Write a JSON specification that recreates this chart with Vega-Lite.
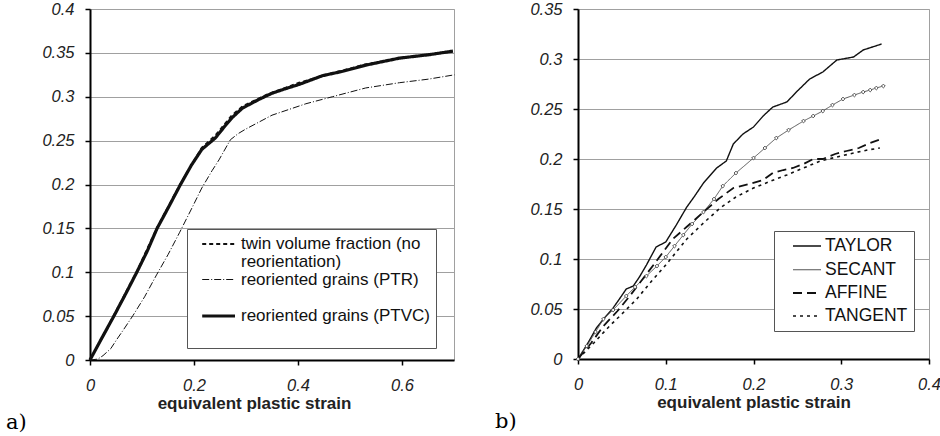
{
  "$schema": "https://vega.github.io/schema/vega-lite/v6.json",
  "background": "white",
  "padding": {"left": 5, "top": 0, "right": 0, "bottom": 0},
  "spacing": 34,
  "resolve": {
    "scale": {"color": "independent", "strokeDash": "independent", "strokeWidth": "independent"},
    "legend": {"color": "independent", "strokeDash": "independent", "strokeWidth": "independent"}
  },
  "config": {
    "font": "Liberation Sans",
    "view": {"stroke": "#a0a0a0", "strokeWidth": 1},
    "axis": {
      "labelFont": "Liberation Sans", "labelFontStyle": "italic", "labelFontSize": 16.5, "labelColor": "#222",
      "titleFont": "Liberation Sans", "titleFontWeight": "bold", "titleFontSize": 17, "titleColor": "#222",
      "domainColor": "black", "domainWidth": 2, "tickColor": "black", "tickWidth": 1.5, "tickSize": 5,
      "gridColor": "#a0a0a0", "gridWidth": 1, "labelPadding": 8, "titlePadding": 2, "format": "~g", "labelFlush": false
    },
    "legend": {
      "labelFont": "Liberation Sans", "labelFontSize": 17.5, "labelColor": "#111", "labelLimit": 400,
      "strokeColor": "#555", "fillColor": "white", "titlePadding": 0
    },
    "title": {"font": "DejaVu Serif", "fontSize": 21, "fontWeight": "normal", "color": "black"}
  },
  "hconcat": [
    {
      "width": 364, "height": 351,
      "title": {"text": "a)", "orient": "bottom", "anchor": "start", "frame": "group", "dx": -84, "offset": 0},
      "data": {"values": [
        {"series": "PTVC", "strain": 0, "value": 0},
        {"series": "PTVC", "strain": 0.02, "value": 0.022},
        {"series": "PTVC", "strain": 0.045, "value": 0.049},
        {"series": "PTVC", "strain": 0.07, "value": 0.077},
        {"series": "PTVC", "strain": 0.09, "value": 0.1},
        {"series": "PTVC", "strain": 0.11, "value": 0.124},
        {"series": "PTVC", "strain": 0.129, "value": 0.15},
        {"series": "PTVC", "strain": 0.15, "value": 0.173},
        {"series": "PTVC", "strain": 0.174, "value": 0.2},
        {"series": "PTVC", "strain": 0.195, "value": 0.222},
        {"series": "PTVC", "strain": 0.215, "value": 0.24},
        {"series": "PTVC", "strain": 0.241, "value": 0.253},
        {"series": "PTVC", "strain": 0.26, "value": 0.267},
        {"series": "PTVC", "strain": 0.273, "value": 0.276},
        {"series": "PTVC", "strain": 0.293, "value": 0.287},
        {"series": "PTVC", "strain": 0.325, "value": 0.297},
        {"series": "PTVC", "strain": 0.35, "value": 0.304},
        {"series": "PTVC", "strain": 0.375, "value": 0.309},
        {"series": "PTVC", "strain": 0.402, "value": 0.314},
        {"series": "PTVC", "strain": 0.447, "value": 0.324},
        {"series": "PTVC", "strain": 0.486, "value": 0.329},
        {"series": "PTVC", "strain": 0.53, "value": 0.336},
        {"series": "PTVC", "strain": 0.595, "value": 0.344},
        {"series": "PTVC", "strain": 0.653, "value": 0.348},
        {"series": "PTVC", "strain": 0.698, "value": 0.352},
        {"series": "twin", "strain": 0, "value": 0},
        {"series": "twin", "strain": 0.045, "value": 0.05},
        {"series": "twin", "strain": 0.09, "value": 0.101},
        {"series": "twin", "strain": 0.129, "value": 0.151},
        {"series": "twin", "strain": 0.174, "value": 0.201},
        {"series": "twin", "strain": 0.215, "value": 0.242},
        {"series": "twin", "strain": 0.241, "value": 0.256},
        {"series": "twin", "strain": 0.273, "value": 0.279},
        {"series": "twin", "strain": 0.293, "value": 0.289},
        {"series": "twin", "strain": 0.338, "value": 0.302},
        {"series": "twin", "strain": 0.402, "value": 0.316},
        {"series": "twin", "strain": 0.466, "value": 0.327},
        {"series": "twin", "strain": 0.53, "value": 0.337},
        {"series": "twin", "strain": 0.595, "value": 0.344},
        {"series": "twin", "strain": 0.653, "value": 0.348},
        {"series": "twin", "strain": 0.698, "value": 0.352},
        {"series": "PTR", "strain": 0, "value": 0},
        {"series": "PTR", "strain": 0.015, "value": 0.001},
        {"series": "PTR", "strain": 0.025, "value": 0.005},
        {"series": "PTR", "strain": 0.04, "value": 0.013},
        {"series": "PTR", "strain": 0.051, "value": 0.023},
        {"series": "PTR", "strain": 0.065, "value": 0.035},
        {"series": "PTR", "strain": 0.083, "value": 0.051},
        {"series": "PTR", "strain": 0.105, "value": 0.072},
        {"series": "PTR", "strain": 0.128, "value": 0.097},
        {"series": "PTR", "strain": 0.15, "value": 0.12},
        {"series": "PTR", "strain": 0.172, "value": 0.145},
        {"series": "PTR", "strain": 0.195, "value": 0.172},
        {"series": "PTR", "strain": 0.215, "value": 0.196},
        {"series": "PTR", "strain": 0.235, "value": 0.216},
        {"series": "PTR", "strain": 0.248, "value": 0.228},
        {"series": "PTR", "strain": 0.27, "value": 0.251},
        {"series": "PTR", "strain": 0.285, "value": 0.258},
        {"series": "PTR", "strain": 0.299, "value": 0.263},
        {"series": "PTR", "strain": 0.35, "value": 0.279},
        {"series": "PTR", "strain": 0.415, "value": 0.292},
        {"series": "PTR", "strain": 0.466, "value": 0.3},
        {"series": "PTR", "strain": 0.53, "value": 0.31},
        {"series": "PTR", "strain": 0.595, "value": 0.316},
        {"series": "PTR", "strain": 0.65, "value": 0.32},
        {"series": "PTR", "strain": 0.701, "value": 0.325}
      ]},
      "mark": {"type": "line"},
      "encoding": {
        "x": {"field": "strain", "type": "quantitative", "scale": {"domain": [0, 0.7], "nice": false},
              "axis": {"values": [0, 0.2, 0.4, 0.6], "title": "equivalent plastic strain", "titleX": 164, "grid": false, "labelPadding": 12}},
        "y": {"field": "value", "type": "quantitative", "scale": {"domain": [0, 0.4], "nice": false},
              "axis": {"values": [0, 0.05, 0.1, 0.15, 0.2, 0.25, 0.3, 0.35, 0.4], "title": null, "grid": true, "labelPadding": 11}},
        "color": {"field": "series", "type": "nominal",
          "scale": {"domain": ["twin", "twin2", "PTR", "gap1", "PTVC", "gap2"], "range": ["#111", "transparent", "#111", "transparent", "#111", "transparent"]},
          "legend": {"orient": "none", "legendX": 97, "legendY": 220, "title": null, "padding": 6, "rowPadding": 0, "labelFontSize": 17,
            "symbolType": "M-0.1,0H4", "symbolSize": 256, "labelOffset": 28,
            "labelExpr": "datum.label == 'twin' ? 'twin volume fraction (no' : datum.label == 'twin2' ? 'reorientation)' : datum.label == 'PTR' ? 'reoriented grains (PTR)' : datum.label == 'PTVC' ? 'reoriented grains (PTVC)\u2002' : ''"}},
        "strokeDash": {"field": "series", "type": "nominal",
          "scale": {"domain": ["twin", "twin2", "PTR", "gap1", "PTVC", "gap2"], "range": [[4, 3], [1, 0], [7, 2, 1, 2], [1, 0], [1, 0], [1, 0]]}},
        "strokeWidth": {"field": "series", "type": "nominal",
          "scale": {"type": "ordinal", "domain": ["twin", "twin2", "PTR", "gap1", "PTVC", "gap2"], "range": [1.8, 0, 1, 0, 3.2, 0]}}
      }
    },
    {
      "width": 351, "height": 350,
      "title": {"text": "b)", "orient": "bottom", "anchor": "start", "frame": "group", "dx": -83, "offset": 0},
      "data": {"values": [
        {"series": "TAYLOR", "strain": 0, "value": 0},
        {"series": "TAYLOR", "strain": 0.01, "value": 0.014},
        {"series": "TAYLOR", "strain": 0.021, "value": 0.031},
        {"series": "TAYLOR", "strain": 0.03, "value": 0.041},
        {"series": "TAYLOR", "strain": 0.04, "value": 0.051},
        {"series": "TAYLOR", "strain": 0.048, "value": 0.061},
        {"series": "TAYLOR", "strain": 0.055, "value": 0.07},
        {"series": "TAYLOR", "strain": 0.063, "value": 0.073},
        {"series": "TAYLOR", "strain": 0.07, "value": 0.082},
        {"series": "TAYLOR", "strain": 0.078, "value": 0.094},
        {"series": "TAYLOR", "strain": 0.089, "value": 0.112},
        {"series": "TAYLOR", "strain": 0.1, "value": 0.117},
        {"series": "TAYLOR", "strain": 0.112, "value": 0.134},
        {"series": "TAYLOR", "strain": 0.124, "value": 0.152},
        {"series": "TAYLOR", "strain": 0.133, "value": 0.163},
        {"series": "TAYLOR", "strain": 0.143, "value": 0.176},
        {"series": "TAYLOR", "strain": 0.158, "value": 0.191},
        {"series": "TAYLOR", "strain": 0.169, "value": 0.198},
        {"series": "TAYLOR", "strain": 0.177, "value": 0.215},
        {"series": "TAYLOR", "strain": 0.188, "value": 0.225},
        {"series": "TAYLOR", "strain": 0.2, "value": 0.232},
        {"series": "TAYLOR", "strain": 0.211, "value": 0.243},
        {"series": "TAYLOR", "strain": 0.222, "value": 0.252},
        {"series": "TAYLOR", "strain": 0.238, "value": 0.257},
        {"series": "TAYLOR", "strain": 0.25, "value": 0.268},
        {"series": "TAYLOR", "strain": 0.264, "value": 0.28},
        {"series": "TAYLOR", "strain": 0.279, "value": 0.287},
        {"series": "TAYLOR", "strain": 0.295, "value": 0.299},
        {"series": "TAYLOR", "strain": 0.314, "value": 0.302},
        {"series": "TAYLOR", "strain": 0.325, "value": 0.309},
        {"series": "TAYLOR", "strain": 0.346, "value": 0.315},
        {"series": "SECANT", "strain": 0, "value": 0},
        {"series": "SECANT", "strain": 0.01, "value": 0.013},
        {"series": "SECANT", "strain": 0.02, "value": 0.027},
        {"series": "SECANT", "strain": 0.029, "value": 0.04},
        {"series": "SECANT", "strain": 0.04, "value": 0.049},
        {"series": "SECANT", "strain": 0.055, "value": 0.063},
        {"series": "SECANT", "strain": 0.065, "value": 0.072},
        {"series": "SECANT", "strain": 0.078, "value": 0.083},
        {"series": "SECANT", "strain": 0.09, "value": 0.093},
        {"series": "SECANT", "strain": 0.1, "value": 0.102},
        {"series": "SECANT", "strain": 0.11, "value": 0.113},
        {"series": "SECANT", "strain": 0.12, "value": 0.124},
        {"series": "SECANT", "strain": 0.13, "value": 0.135},
        {"series": "SECANT", "strain": 0.143, "value": 0.147},
        {"series": "SECANT", "strain": 0.155, "value": 0.16},
        {"series": "SECANT", "strain": 0.165, "value": 0.173},
        {"series": "SECANT", "strain": 0.18, "value": 0.186},
        {"series": "SECANT", "strain": 0.2, "value": 0.201},
        {"series": "SECANT", "strain": 0.213, "value": 0.211},
        {"series": "SECANT", "strain": 0.226, "value": 0.221},
        {"series": "SECANT", "strain": 0.24, "value": 0.229},
        {"series": "SECANT", "strain": 0.257, "value": 0.238},
        {"series": "SECANT", "strain": 0.268, "value": 0.243},
        {"series": "SECANT", "strain": 0.279, "value": 0.248},
        {"series": "SECANT", "strain": 0.29, "value": 0.254},
        {"series": "SECANT", "strain": 0.302, "value": 0.26},
        {"series": "SECANT", "strain": 0.315, "value": 0.264},
        {"series": "SECANT", "strain": 0.325, "value": 0.267},
        {"series": "SECANT", "strain": 0.333, "value": 0.269},
        {"series": "SECANT", "strain": 0.34, "value": 0.271},
        {"series": "SECANT", "strain": 0.348, "value": 0.273},
        {"series": "AFFINE", "strain": 0, "value": 0},
        {"series": "AFFINE", "strain": 0.015, "value": 0.016},
        {"series": "AFFINE", "strain": 0.029, "value": 0.033},
        {"series": "AFFINE", "strain": 0.045, "value": 0.048},
        {"series": "AFFINE", "strain": 0.059, "value": 0.063},
        {"series": "AFFINE", "strain": 0.072, "value": 0.078},
        {"series": "AFFINE", "strain": 0.086, "value": 0.094},
        {"series": "AFFINE", "strain": 0.097, "value": 0.107},
        {"series": "AFFINE", "strain": 0.108, "value": 0.12},
        {"series": "AFFINE", "strain": 0.125, "value": 0.133},
        {"series": "AFFINE", "strain": 0.143, "value": 0.147},
        {"series": "AFFINE", "strain": 0.16, "value": 0.16},
        {"series": "AFFINE", "strain": 0.177, "value": 0.171},
        {"series": "AFFINE", "strain": 0.195, "value": 0.175},
        {"series": "AFFINE", "strain": 0.211, "value": 0.179},
        {"series": "AFFINE", "strain": 0.222, "value": 0.186},
        {"series": "AFFINE", "strain": 0.234, "value": 0.189},
        {"series": "AFFINE", "strain": 0.245, "value": 0.191},
        {"series": "AFFINE", "strain": 0.257, "value": 0.195},
        {"series": "AFFINE", "strain": 0.268, "value": 0.2},
        {"series": "AFFINE", "strain": 0.279, "value": 0.2},
        {"series": "AFFINE", "strain": 0.293, "value": 0.205},
        {"series": "AFFINE", "strain": 0.306, "value": 0.208},
        {"series": "AFFINE", "strain": 0.32, "value": 0.211},
        {"series": "AFFINE", "strain": 0.333, "value": 0.216},
        {"series": "AFFINE", "strain": 0.346, "value": 0.22},
        {"series": "TANGENT", "strain": 0, "value": 0},
        {"series": "TANGENT", "strain": 0.018, "value": 0.016},
        {"series": "TANGENT", "strain": 0.036, "value": 0.033},
        {"series": "TANGENT", "strain": 0.05, "value": 0.045},
        {"series": "TANGENT", "strain": 0.067, "value": 0.06},
        {"series": "TANGENT", "strain": 0.083, "value": 0.077},
        {"series": "TANGENT", "strain": 0.1, "value": 0.094},
        {"series": "TANGENT", "strain": 0.112, "value": 0.107},
        {"series": "TANGENT", "strain": 0.124, "value": 0.12},
        {"series": "TANGENT", "strain": 0.143, "value": 0.136},
        {"series": "TANGENT", "strain": 0.162, "value": 0.151},
        {"series": "TANGENT", "strain": 0.18, "value": 0.162},
        {"series": "TANGENT", "strain": 0.2, "value": 0.171},
        {"series": "TANGENT", "strain": 0.22, "value": 0.178},
        {"series": "TANGENT", "strain": 0.238, "value": 0.184},
        {"series": "TANGENT", "strain": 0.257, "value": 0.191},
        {"series": "TANGENT", "strain": 0.276, "value": 0.198},
        {"series": "TANGENT", "strain": 0.295, "value": 0.202},
        {"series": "TANGENT", "strain": 0.314, "value": 0.206},
        {"series": "TANGENT", "strain": 0.33, "value": 0.209},
        {"series": "TANGENT", "strain": 0.344, "value": 0.211}
      ]},
      "encoding": {
        "x": {"field": "strain", "type": "quantitative", "scale": {"domain": [0, 0.4], "nice": false},
              "axis": {"values": [0, 0.1, 0.2, 0.3, 0.4], "title": "equivalent plastic strain", "grid": false, "labelPadding": 12}},
        "y": {"field": "value", "type": "quantitative", "scale": {"domain": [0, 0.35], "nice": false},
              "axis": {"values": [0, 0.05, 0.1, 0.15, 0.2, 0.25, 0.3, 0.35], "title": null, "grid": true, "labelPadding": 11}}
      },
      "layer": [
        {
          "mark": {"type": "line"},
          "encoding": {
            "color": {"field": "series", "type": "nominal",
              "scale": {"domain": ["TAYLOR", "SECANT", "AFFINE", "TANGENT"], "range": ["#111", "#555", "#111", "#111"]},
              "legend": {"orient": "none", "legendX": 196, "legendY": 222, "title": null, "padding": 6, "rowPadding": 5,
                "symbolType": "M0.5,0H4", "symbolSize": 256, "labelOffset": 27,
                "labelExpr": "datum.label + '\u2002\u2009'"}},
            "strokeDash": {"field": "series", "type": "nominal",
              "scale": {"domain": ["TAYLOR", "SECANT", "AFFINE", "TANGENT"], "range": [[1, 0], [1, 0], [9, 5], [3, 4]]}},
            "strokeWidth": {"field": "series", "type": "nominal",
              "scale": {"type": "ordinal", "domain": ["TAYLOR", "SECANT", "AFFINE", "TANGENT"], "range": [1.4, 1, 1.8, 1.6]}}
          }
        },
        {
          "transform": [{"filter": "datum.series == 'SECANT'"}],
          "mark": {"type": "point", "shape": "diamond", "size": 14, "filled": true, "fill": "white", "stroke": "#555", "strokeWidth": 1, "opacity": 1}
        }
      ]
    }
  ]
}
